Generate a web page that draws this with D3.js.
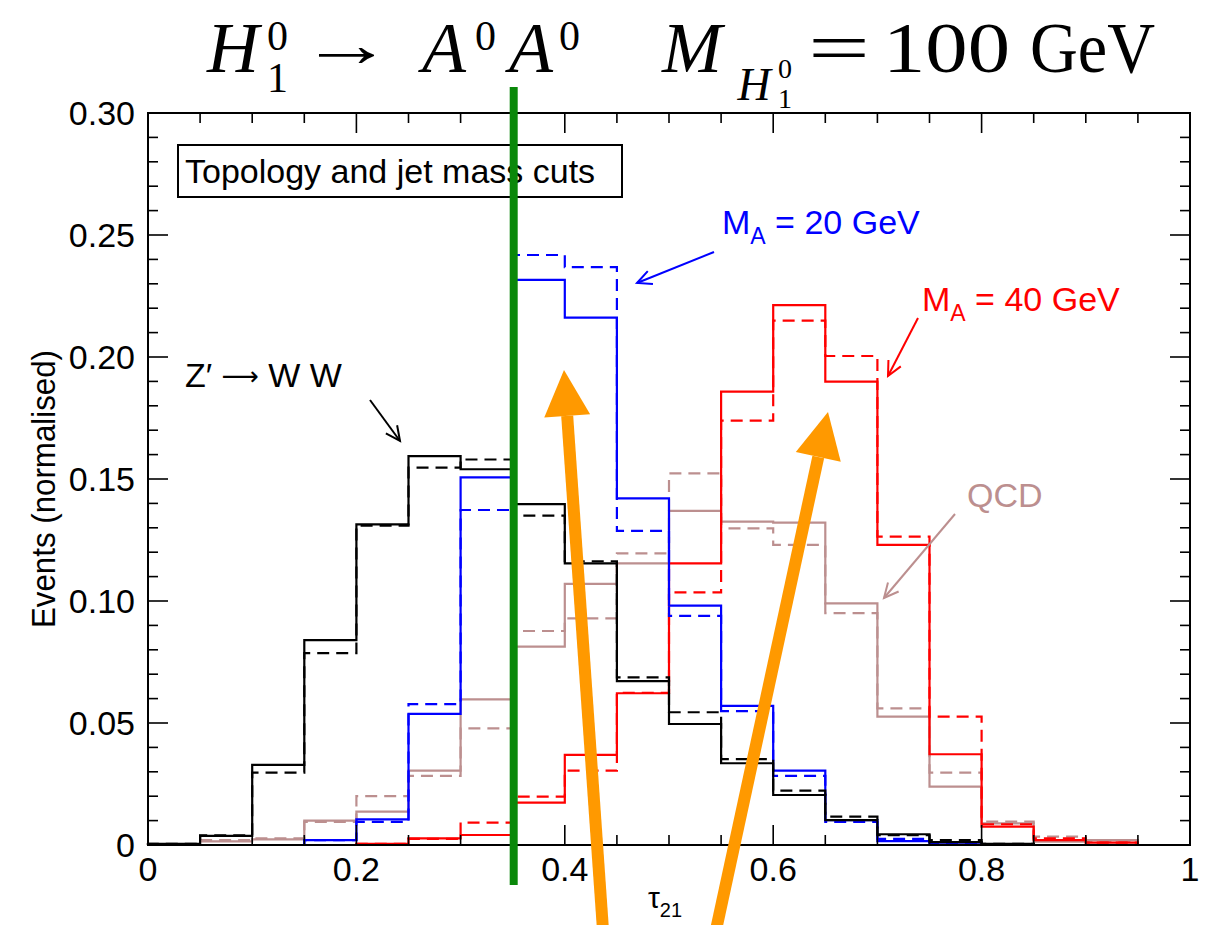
<!DOCTYPE html>
<html><head><meta charset="utf-8">
<script src="https://d3js.org/d3.v7.min.js"></script>
<style>body{margin:0;background:#fff}svg{display:block}</style>
</head><body>
<svg id="chart" width="1222" height="925"></svg>
<script>
const binStart = [0,0.05,0.1,0.15,0.2,0.25,0.3,0.35,0.4,0.45,0.5,0.55,0.6,0.65,0.7,0.75,0.8,0.85,0.9];
const binWidth = 0.05;
const blackSolid  = [0.0005,0.0037,0.0328,0.084,0.1314,0.1594,0.154,0.1397,0.1154,0.0672,0.0496,0.0335,0.0205,0.0102,0.0044,0.0012,0.0005,0,0];
const blackDashed = [0.0005,0.004,0.0297,0.0786,0.1309,0.1547,0.158,0.135,0.1163,0.0687,0.0544,0.0352,0.0223,0.0116,0.004,0.002,0.0005,0,0];
const blueSolid   = [0,0,0,0.002,0.0105,0.0537,0.1507,0.2316,0.2161,0.1421,0.0981,0.057,0.0305,0.0102,0.0016,0.001,0.0004,0,0];
const blueDashed  = [0,0,0,0.002,0.0095,0.0577,0.1373,0.2418,0.2368,0.1287,0.0939,0.0549,0.0283,0.0095,0.0025,0.0008,0.0003,0,0];
const redSolid    = [0,0,0,0,0.0005,0.0027,0.0041,0.0174,0.0369,0.0622,0.1154,0.1858,0.2213,0.1899,0.123,0.0372,0.0075,0.002,0.001];
const redDashed   = [0,0,0,0,0.0005,0.0025,0.0092,0.0198,0.0305,0.0624,0.1035,0.1739,0.2149,0.2004,0.1264,0.0526,0.0085,0.0027,0.001];
const qcdSolid    = [0.0003,0.0015,0.0023,0.01,0.0137,0.0305,0.0597,0.0813,0.107,0.1154,0.1369,0.1325,0.1321,0.099,0.0526,0.0239,0.0089,0.0014,0.002];
const qcdDashed   = [0.0003,0.002,0.0027,0.0095,0.02,0.0283,0.0478,0.0877,0.0929,0.1195,0.1523,0.1298,0.123,0.095,0.056,0.0297,0.0096,0.0034,0.0015];
const xTicks = [0,0.2,0.4,0.6,0.8,1];
const xTickLabels = ["0","0.2","0.4","0.6","0.8","1"];
const yTicks = [0,0.05,0.1,0.15,0.2,0.25,0.3];
const yTickLabels = ["0","0.05","0.10","0.15","0.20","0.25","0.30"];
const cutValue = 0.35;

const C = {black:"#000", blue:"#0000ff", red:"#ff0000", qcd:"#bc8f8f", green:"#0a880a", orange:"#ff9900"};
const svg = d3.select("#chart");
const L=148, R=1190, T=113, B=845;
const x = d3.scaleLinear().domain([0,1]).range([L,R]);
const y = d3.scaleLinear().domain([0,0.3]).range([B,T]);
const font = "'Liberation Sans', Arial, sans-serif";
const FS = 34;

// histograms
function stepPath(vals){
  const p = d3.path();
  p.moveTo(x(binStart[0]), y(0));
  vals.forEach((v,i)=>{ p.lineTo(x(binStart[i]), y(v)); p.lineTo(x(binStart[i]+binWidth), y(v)); });
  p.lineTo(x(binStart[binStart.length-1]+binWidth), y(0));
  return p.toString();
}
const series = [
  {v:qcdSolid,c:C.qcd,d:null},{v:qcdDashed,c:C.qcd,d:"12,7"},
  {v:redSolid,c:C.red,d:null},{v:redDashed,c:C.red,d:"12,7"},
  {v:blueSolid,c:C.blue,d:null},{v:blueDashed,c:C.blue,d:"12,7"},
  {v:blackSolid,c:C.black,d:null},{v:blackDashed,c:C.black,d:"12,7"}
];
svg.append("g").selectAll("path").data(series).join("path")
  .attr("d",s=>stepPath(s.v)).attr("fill","none").attr("stroke",s=>s.c)
  .attr("stroke-width",2.2).attr("stroke-dasharray",s=>s.d);

// frame
svg.append("rect").attr("x",L).attr("y",T).attr("width",R-L).attr("height",B-T)
  .attr("fill","none").attr("stroke","#000").attr("stroke-width",2);

// ticks (inside, all four sides)
const yMinor = d3.range(0,0.3001,0.01);
const xMinor = d3.range(0,1.0001,0.05);
const ax = svg.append("g").attr("stroke","#000").attr("stroke-width",1.6);
yMinor.forEach(v=>{
  const major = Math.abs(Math.round(v*20)-v*20)<1e-6;
  const len = major?20:10;
  ax.append("line").attr("x1",L).attr("x2",L+len).attr("y1",y(v)).attr("y2",y(v));
  ax.append("line").attr("x1",R).attr("x2",R-len).attr("y1",y(v)).attr("y2",y(v));
});
xMinor.forEach(v=>{
  const major = Math.abs(Math.round(v*5)-v*5)<1e-6;
  const len = major?20:10;
  ax.append("line").attr("y1",B).attr("y2",B-len).attr("x1",x(v)).attr("x2",x(v));
  ax.append("line").attr("y1",T).attr("y2",T+len).attr("x1",x(v)).attr("x2",x(v));
});
svg.append("g").selectAll("text").data(yTicks).join("text")
  .attr("x",L-13).attr("y",d=>y(d)+12).attr("text-anchor","end")
  .attr("font-family",font).attr("font-size",FS).text((d,i)=>yTickLabels[i]);
svg.append("g").selectAll("text").data(xTicks).join("text")
  .attr("x",d=>x(d)).attr("y",B+36).attr("text-anchor","middle")
  .attr("font-family",font).attr("font-size",FS).text((d,i)=>xTickLabels[i]);

// axis titles
svg.append("text").attr("transform","translate(55,489) rotate(-90) scale(0.92,1)").attr("text-anchor","middle")
  .attr("font-family",font).attr("font-size",FS)
  .text("Events (normalised)");
const xt = svg.append("text").attr("x",648).attr("y",908).attr("font-family",font).attr("font-size",30);
xt.append("tspan").text("τ");
xt.append("tspan").attr("font-size",20).attr("dy",9).text("21");

// legend box
svg.append("rect").attr("x",178).attr("y",145).attr("width",444).attr("height",52)
  .attr("fill","#fff").attr("stroke","#000").attr("stroke-width",2);
svg.append("text").attr("x",185).attr("y",183).attr("font-family",font).attr("font-size",FS).text("Topology and jet mass cuts");

// labels with arrows
function arrow(x1,y1,x2,y2,col,w){
  svg.append("line").attr("x1",x1).attr("y1",y1).attr("x2",x2).attr("y2",y2).attr("stroke",col).attr("stroke-width",w||2);
  const a = Math.atan2(y2-y1,x2-x1), h=16, s=0.45;
  const p = d3.path();
  p.moveTo(x2-h*Math.cos(a-s), y2-h*Math.sin(a-s)); p.lineTo(x2,y2); p.lineTo(x2-h*Math.cos(a+s), y2-h*Math.sin(a+s));
  svg.append("path").attr("d",p.toString()).attr("fill","none").attr("stroke",col).attr("stroke-width",w||2);
}
function massLabel(tx,ty,col,txt){
  const t = svg.append("text").attr("x",tx).attr("y",ty).attr("font-family",font).attr("font-size",FS).attr("fill",col);
  t.append("tspan").text("M");
  t.append("tspan").attr("font-size",23).attr("dy",10).text("A");
  t.append("tspan").attr("dy",-10).text(" = "+txt);
}
massLabel(722,234,C.blue,"20 GeV");
arrow(714,252,637,283,C.blue);
massLabel(922,311,C.red,"40 GeV");
arrow(918,318,888,376,C.red);
const zt = svg.append("text").attr("x",185).attr("y",387).attr("font-family",font).attr("font-size",FS);
zt.append("tspan").text("Z′ ");
zt.append("tspan").attr("font-family","'DejaVu Sans', sans-serif").attr("font-size",26).attr("dy",-2).text("⟶");
zt.append("tspan").attr("dy",2).text(" W W");
arrow(370,400,400,441,C.black);
svg.append("text").attr("x",967).attr("y",507).attr("font-family",font).attr("font-size",FS).attr("fill",C.qcd).text("QCD");
arrow(955,514,884,598,C.qcd);

// green cut line
svg.append("line").attr("x1",x(cutValue)+1).attr("x2",x(cutValue)+1).attr("y1",87).attr("y2",885)
  .attr("stroke",C.green).attr("stroke-width",8);

// orange arrows
function fatArrow(x1,y1,x2,y2){
  const a = Math.atan2(y2-y1,x2-x1), hl=46, hw=23;
  const bx = x2-hl*Math.cos(a), by = y2-hl*Math.sin(a);
  svg.append("line").attr("x1",x1).attr("y1",y1).attr("x2",bx).attr("y2",by).attr("stroke",C.orange).attr("stroke-width",12);
  const nx=-Math.sin(a), ny=Math.cos(a);
  svg.append("path").attr("d",`M${x2},${y2}L${bx+nx*hw},${by+ny*hw}L${bx-nx*hw},${by-ny*hw}Z`).attr("fill",C.orange);
}
fatArrow(603,930,564,370);
fatArrow(716,930,828,412);

// title (LaTeX-like)
const serif = "'Liberation Serif', 'DejaVu Serif', serif";
const tg = svg.append("g").attr("font-family",serif);
function tpiece(txt,x0,y0,fs,opts){
  opts = opts||{};
  const t = tg.append("text").attr("x",x0).attr("y",y0).attr("font-size",fs).text(txt);
  if(opts.italic) t.attr("font-style","italic");
  if(opts.anchor) t.attr("text-anchor",opts.anchor);
  if(opts.w) t.attr("textLength",opts.w).attr("lengthAdjust","spacingAndGlyphs");
  return t;
}
function supsub(sup,sub,x0,ySup,ySub,fs){
  const t = tg.append("text").attr("font-size",fs);
  if(sup) t.append("tspan").attr("x",x0).attr("y",ySup).text(sup);
  if(sub) t.append("tspan").attr("x",x0).attr("y",ySub).text(sub);
}
tpiece("H",233,72,72,{italic:true,anchor:"middle"});
supsub("0","1",267,50,92,42);
tpiece("→",300,66,64,{w:93});
tpiece("A",444,72,72,{italic:true,anchor:"middle"});
supsub("0",null,475,50,0,42);
tpiece("A",531,72,72,{italic:true,anchor:"middle"});
supsub("0",null,559,50,0,42);
tpiece("M",692,72,72,{italic:true,anchor:"middle"});
tpiece("H",754,100,46,{italic:true,anchor:"middle"});
supsub("0","1",778,78,108,28);
tpiece("=",808,72,71,{w:62});
tpiece("100",883,72,71,{w:127});
tpiece("GeV",1030,72,71,{w:125});
</script>
</body></html>
